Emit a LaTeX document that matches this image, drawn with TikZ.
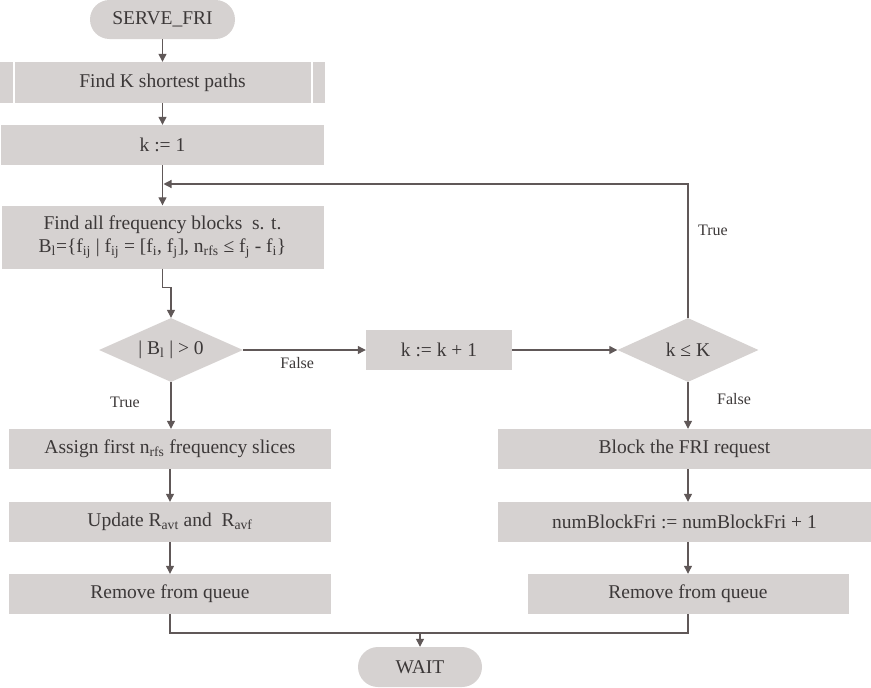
\documentclass[tikz,border=0pt]{standalone}
\usepackage{fontspec}
\setmainfont{Liberation Serif}
\usetikzlibrary{shapes.geometric,arrows.meta}
\definecolor{boxfill}{RGB}{214,210,209}
\definecolor{linec}{RGB}{96,88,88}
\definecolor{textc}{RGB}{60,56,56}
\newcommand\mfs{\fontsize{19.5}{23}\selectfont}
\newcommand\lblfs{\fontsize{16}{19}\selectfont}
\begin{document}
\begin{tikzpicture}[x=1pt,y=-1pt,
  box/.style={rectangle, fill=boxfill, inner sep=0pt, text=textc, font=\mfs, align=center, minimum height=40pt},
  dia/.style={diamond, aspect=2.2, fill=boxfill, inner sep=0pt, text=textc, font=\mfs},
  conn/.style={draw=linec, line width=1.2pt},
  arr/.style={conn, -{Triangle[width=8pt,length=8pt]}},
  lbl/.style={text=textc, font=\lblfs, inner sep=0pt}]
\useasboundingbox (0,0) rectangle (871,688);
% nodes
\node[box, rounded corners=19.5pt, minimum width=145pt, minimum height=39pt] (start) at (162.5,19.5) {SERVE\_FRI};
\node[box, minimum width=325pt, minimum height=41pt] (fk) at (162.5,82.5) {Find K shortest paths};
\node[box, minimum width=323pt] (k1) at (162.5,145) {k := 1};
\node[box, minimum width=322pt, minimum height=63pt] (fa) at (162.5,237) {Find all frequency blocks\ \ s. t.\\B\textsubscript{l}=\{f\textsubscript{ij} | f\textsubscript{ij} = [f\textsubscript{i}, f\textsubscript{j}], n\textsubscript{rfs} ≤ f\textsubscript{j} - f\textsubscript{i}\}};
\node[dia, minimum width=144pt, minimum height=64pt] (d1) at (171,350) {| B\textsubscript{l} | > 0};
\node[box, minimum width=146pt] (kk) at (439,350) {k := k + 1};
\node[dia, minimum width=141pt, minimum height=64pt] (d2) at (688,350) {k ≤ K};
\node[box, minimum width=322pt] (as) at (170,449) {Assign first n\textsubscript{rfs} frequency slices};
\node[box, minimum width=322pt] (up) at (170,522) {Update R\textsubscript{avt} and\ \ R\textsubscript{avf}};
\node[box, minimum width=322pt] (rl) at (170,594) {Remove from queue};
\node[box, minimum width=373pt] (blk) at (684.5,449) {Block the FRI request};
\node[box, minimum width=373pt] (nb) at (684.5,522) {numBlockFri := numBlockFri + 1};
\node[box, minimum width=321pt] (rr) at (688,594) {Remove from queue};
\node[box, rounded corners=20pt, minimum width=124pt] (wait) at (420,667) {WAIT};
% predefined-process bars
\draw[white, line width=2pt] ([xshift=13.7pt]fk.north west) -- ([xshift=13.7pt]fk.south west);
\draw[white, line width=2pt] ([xshift=-13pt]fk.north east) -- ([xshift=-13pt]fk.south east);
% coordinates
\coordinate (j) at (163.5,184);
\coordinate (m) at (420,633);
% connectors
\draw[arr] (start.south) -- (fk.north);
\draw[arr] (fk.south) -- (k1.north);
\draw[arr] (k1.south) -- (fa.north);
\draw[arr] (fa.south) -- ++(0,19) -| (d1.north);
\draw[arr] (d1.east) -- (kk.west) node[lbl, pos=0.44, yshift=-13pt] {False};
\draw[arr] (kk.east) -- (d2.west);
\draw[arr] (d2.north) |- (j) node[lbl, pos=0.325, xshift=25pt] {True};
\draw[arr] (d1.south) -- (d1.south |- as.north) node[lbl, pos=0.43, xshift=-46pt] {True};
\draw[arr] (d2.south) -- (d2.south |- blk.north) node[lbl, pos=0.36, xshift=46pt] {False};
\draw[arr] (as.south) -- (up.north);
\draw[arr] (up.south) -- (rl.north);
\draw[arr] (rr.north |- blk.south) -- (rr.north |- nb.north);
\draw[arr] (rr.north |- nb.south) -- (rr.north);
\draw[conn] (rl.south) |- (m);
\draw[conn] (rr.south) |- (m);
\draw[arr] (m) -- (wait.north);
\end{tikzpicture}
\end{document}
